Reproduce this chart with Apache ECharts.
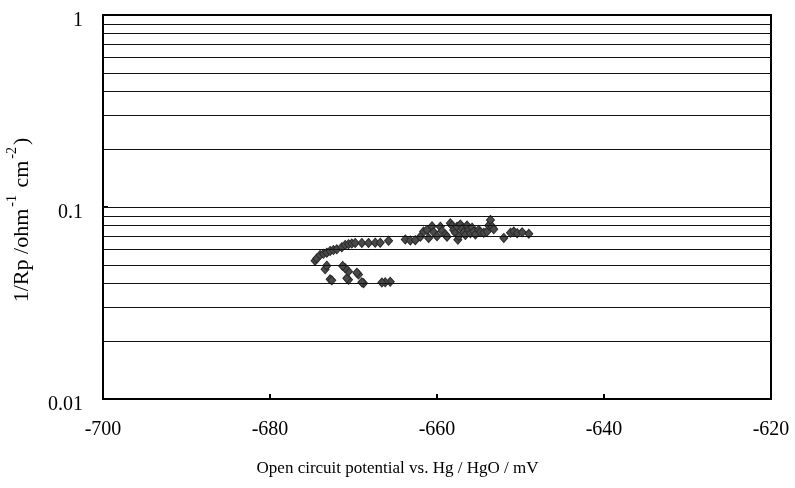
<!DOCTYPE html>
<html>
<head>
<meta charset="utf-8">
<script src="https://cdn.jsdelivr.net/npm/echarts@6/dist/echarts.min.js"></script>
<style>
  html, body { margin: 0; padding: 0; background: #fff; }
  #chart { width: 795px; height: 488px; }
</style>
</head>
<body>
<div id="chart"></div>
<script>
// Open circuit potential (mV vs. Hg/HgO)
const potential = [
  -665.6, -666.2, -666.6, -668.8, -669.0, -669.4, -669.6, -670.6, -670.8, -670.6,
  -671.0, -671.3, -672.8, -672.6, -673.4, -673.2,
  -674.6, -674.4, -674.0, -673.6, -673.2, -672.8, -672.4, -672.0, -671.4, -671.0,
  -670.6, -670.2, -669.8, -669.0, -668.2, -667.4, -666.8, -665.8, -663.8, -663.2, -662.6,
  -662.0, -661.6, -661.2, -661.0, -660.6, -660.4, -660.0, -659.6, -659.4, -659.0,
  -658.8, -658.4, -658.2, -658.0, -657.8, -657.6, -657.5, -657.4, -657.2, -657.0,
  -656.8, -656.6, -656.4, -656.2, -656.0, -655.8, -655.6, -655.4, -655.0, -654.8,
  -654.4, -654.0, -653.8, -653.6, -653.4, -653.2,
  -652.0, -651.2, -650.8, -650.4, -649.8, -649.0
];
// Polarization conductance 1/Rp (ohm^-1 cm^-2)
const conductance = [
  0.0408, 0.0405, 0.0404, 0.0401, 0.0405, 0.0445, 0.0455, 0.0418, 0.0425, 0.0462,
  0.0480, 0.0493, 0.0420, 0.0415, 0.0474, 0.0495,
  0.0525, 0.0540, 0.0562, 0.0570, 0.0578, 0.0590, 0.0597, 0.0602, 0.0618, 0.0634,
  0.0640, 0.0645, 0.0650, 0.0650, 0.0650, 0.0652, 0.0652, 0.0668, 0.0678, 0.0670, 0.0672,
  0.0700, 0.0745, 0.0760, 0.0690, 0.0795, 0.0740, 0.0705, 0.0790, 0.0750, 0.0720,
  0.0700, 0.0822, 0.0800, 0.0760, 0.0735, 0.0790, 0.0675, 0.0705, 0.0810, 0.0770,
  0.0740, 0.0715, 0.0800, 0.0760, 0.0730, 0.0780, 0.0745, 0.0720, 0.0760, 0.0740,
  0.0735, 0.0745, 0.0800, 0.0856, 0.0790, 0.0765,
  0.0690, 0.0735, 0.0745, 0.0730, 0.0738, 0.0725
];
// Horizontal reference lines at every 1-9 step of each decade
const gridLevels = [0.02, 0.03, 0.04, 0.05, 0.06, 0.07, 0.08, 0.09, 0.1,
                    0.2, 0.3, 0.4, 0.5, 0.6, 0.7, 0.8, 0.9];
const xTicks = { min: -700, max: -620, interval: 20 };

const serif = '"Liberation Serif", "Times New Roman", serif';
const points = potential.map((p, i) => [p, conductance[i]]);

const chart = echarts.init(document.getElementById('chart'), null, { renderer: 'canvas' });
chart.setOption({
  animation: false,
  backgroundColor: '#fff',
  title: {
    text: 'Open circuit potential vs. Hg / HgO / mV',
    left: 'center',
    top: 455,
    textStyle: { fontFamily: serif, fontSize: 17, fontWeight: 'normal', color: '#000' }
  },
  grid: {
    left: 103, right: 24, top: 15, bottom: 89,
    containLabel: false,
    outerBoundsMode: 'none',
    show: true, borderColor: '#000', borderWidth: 2, backgroundColor: 'transparent'
  },
  xAxis: {
    type: 'value',
    min: xTicks.min, max: xTicks.max, interval: xTicks.interval,
    axisLine: { show: true, lineStyle: { color: '#000', width: 2 } },
    axisTick: { show: true, inside: true, length: 5, lineStyle: { color: '#000', width: 2 } },
    axisLabel: { margin: 21, fontFamily: serif, fontSize: 20, color: '#000' },
    splitLine: { show: false }
  },
  yAxis: {
    type: 'log',
    logBase: 10,
    min: 0.01, max: 1,
    axisLine: { show: true, lineStyle: { color: '#000', width: 2 } },
    axisTick: { show: true, inside: true, length: 5, lineStyle: { color: '#000', width: 2 } },
    axisLabel: {
      margin: 20, color: '#000',
      formatter: v => '{v|' + String(+v.toPrecision(3)) + '}',
      rich: {
        v: { fontFamily: serif, fontSize: 20, color: '#000', padding: [11, 0, 0, 0] }
      }
    },
    splitLine: { show: false },
    name: '{n|1/Rp /ohm}{s|-1}{n| cm}{s|-2}{n|)}',
    nameLocation: 'middle',
    nameRotate: 90,
    nameGap: 70,
    nameTextStyle: {
      padding: [0, 26, 0, 0],
      rich: {
        n: { fontFamily: serif, fontSize: 22, color: '#000', lineHeight: 28, verticalAlign: 'bottom' },
        s: { fontFamily: serif, fontSize: 14, color: '#000', lineHeight: 28, verticalAlign: 'top', padding: [0, 2, 0, 2] }
      }
    }
  },
  series: [
    {
      type: 'scatter',
      data: [],
      z: 1,
      silent: true,
      markLine: {
        silent: true,
        symbol: 'none',
        label: { show: false },
        lineStyle: { color: '#111', width: 1, type: 'solid' },
        data: gridLevels.map(v => ({ yAxis: v }))
      }
    },
    {
      type: 'scatter',
      z: 3,
      symbol: 'diamond',
      symbolSize: [8, 9],
      itemStyle: { color: '#4a4a4a', borderColor: '#2a2a2a', borderWidth: 1, opacity: 1 },
      data: points
    }
  ]
});
</script>
</body>
</html>
